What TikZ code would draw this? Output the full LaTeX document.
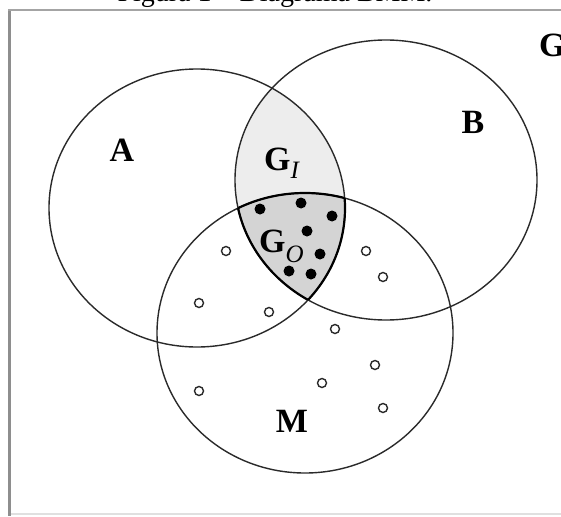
\documentclass[tikz,border=0pt]{standalone}
\usepackage{fontspec}
\setmainfont{Liberation Serif}
\definecolor{ringcol}{HTML}{2A2A2A}
\definecolor{lightfill}{HTML}{EDEDED}
\definecolor{darkfill}{HTML}{D4D4D4}
\definecolor{framecol}{HTML}{8E8E8E}
\begin{document}
\begin{tikzpicture}[x=1pt,y=-1pt,
  ring/.style={draw=ringcol,line width=1.4pt},
  edge/.style={draw=black,line width=2.2pt},
  lab/.style={inner sep=0pt,font=\fontsize{34}{34}\selectfont\bfseries},
  fulldot/.style={fill=black,draw=none},
  opendot/.style={draw=ringcol,fill=white,line width=1.4pt}]
\useasboundingbox (0,0) rectangle (561,516);
\def\ellA{(197,208) ellipse [x radius=148, y radius=139]}
\def\ellB{(386,180) ellipse [x radius=151, y radius=140]}
\def\ellM{(305,333) ellipse [x radius=148, y radius=140]}
% frame
\draw[framecol,line width=3pt] (9.5,11) -- (9.5,516);
\draw[framecol!80,line width=2.5pt] (8,10) -- (561,10);
\draw[black!12,line width=1.2pt] (11,514) -- (561,514);
% title
\node[inner sep=0pt,anchor=base,font=\fontsize{28}{28}\selectfont] (title) at (275,2) {Figura 1 – Diagrama BMM.};
% fills
\begin{scope}
  \clip \ellA; \clip \ellB;
  \fill[lightfill] (0,0) rectangle (561,516);
  \clip \ellM;
  \fill[darkfill] (0,0) rectangle (561,516);
\end{scope}
% thin rings
\draw[ring] \ellA;
\draw[ring] \ellB;
\draw[ring] \ellM;
% thick boundary of G_O
\begin{scope}\clip \ellA; \clip \ellB; \draw[edge] \ellM; \end{scope}
\begin{scope}\clip \ellA; \clip \ellM; \draw[edge] \ellB; \end{scope}
\begin{scope}\clip \ellB; \clip \ellM; \draw[edge] \ellA; \end{scope}
% full dots
\foreach \p/\q in {260/209, 301/203, 332/216, 307/231, 320/254, 289/271, 311/274}
  \fill[fulldot] (\p,\q) circle (5.5);
% open dots
\foreach \p/\q in {226/251, 366/251, 383/277, 199/303, 269/312, 335/329, 375/365, 322/383, 199/391, 383/408}
  \draw[opendot] (\p,\q) circle (4.5);
% labels
\node[lab] (la) at (122,150) {A};
\node[lab] (lb) at (473,122) {B};
\node[lab] (lm) at (292,421) {M};
\node[lab,anchor=west] (lg) at (539,45) {G};
\node[lab,anchor=base west] (lgi) at (264,170) {G\raisebox{-8pt}{\fontsize{25}{25}\selectfont\mdseries\itshape I}};
\node[lab,anchor=base west] (lgo) at (259,252) {G\raisebox{-10pt}{\fontsize{25}{25}\selectfont\mdseries\itshape O}};
\end{tikzpicture}
\end{document}
